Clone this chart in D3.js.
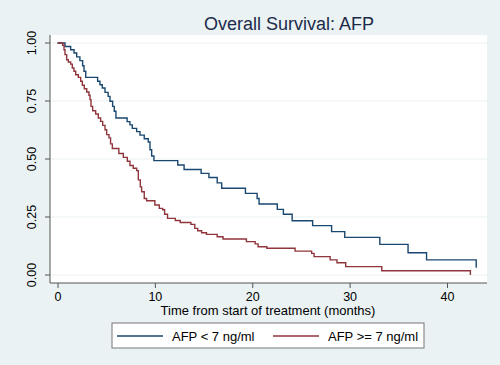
<!DOCTYPE html>
<html>
<head>
<meta charset="utf-8">
<script src="https://cdn.jsdelivr.net/npm/d3@7"></script>
<style>
  body { margin: 0; background: #eaf2f3; }
  svg { display: block; font-family: "Liberation Sans", Arial, sans-serif; }
</style>
</head>
<body>
<div id="chart"></div>
<script>
// Kaplan-Meier steps: [months, survival]
const lowAfp = [
  [0, 1], [0.77, 0.985], [1.35, 0.971], [1.7, 0.957], [1.97, 0.94], [2.3, 0.924],
  [2.58, 0.902], [2.72, 0.878], [2.9, 0.852], [4.12, 0.835], [4.36, 0.82], [4.6, 0.806],
  [4.88, 0.787], [5.2, 0.77], [5.39, 0.749], [5.66, 0.727], [5.83, 0.706], [6.0, 0.677],
  [7.15, 0.661], [7.44, 0.647], [7.68, 0.632], [8.13, 0.618], [8.47, 0.603], [8.91, 0.587],
  [9.32, 0.573], [9.5, 0.54], [9.67, 0.513], [9.9, 0.493], [12.35, 0.474], [13.0, 0.455],
  [14.75, 0.438], [15.55, 0.42], [16.4, 0.397], [16.86, 0.374], [19.3, 0.352], [20.5, 0.33],
  [20.7, 0.306], [22.57, 0.283], [23.2, 0.262], [24.1, 0.234], [26.2, 0.213], [28.15, 0.187],
  [29.5, 0.162], [33.1, 0.132], [36.0, 0.096], [37.9, 0.065], [43.0, 0.031]
];
const highAfp = [
  [0, 1], [0.53, 0.99], [0.67, 0.971], [0.77, 0.95], [0.94, 0.928], [1.11, 0.918],
  [1.35, 0.909], [1.52, 0.892], [1.69, 0.878], [1.87, 0.863], [2.14, 0.852], [2.38, 0.835],
  [2.55, 0.818], [2.75, 0.803], [3.0, 0.789], [3.23, 0.775], [3.34, 0.756], [3.44, 0.727],
  [3.61, 0.708], [3.92, 0.694], [4.19, 0.677], [4.43, 0.662], [4.64, 0.645], [4.88, 0.626],
  [5.05, 0.605], [5.29, 0.591], [5.45, 0.565], [5.63, 0.545], [6.3, 0.524], [6.76, 0.507],
  [7.17, 0.49], [7.44, 0.472], [7.78, 0.46], [8.13, 0.45], [8.3, 0.41], [8.5, 0.38],
  [8.64, 0.359], [8.91, 0.33], [9.15, 0.32], [10.0, 0.302], [10.45, 0.287], [10.8, 0.281],
  [11.0, 0.262], [11.3, 0.244], [12.1, 0.235], [12.6, 0.226], [13.7, 0.218], [14.1, 0.201],
  [14.4, 0.191], [14.8, 0.182], [15.3, 0.175], [16.4, 0.165], [17.0, 0.155], [19.4, 0.144],
  [20.3, 0.134], [20.6, 0.122], [21.5, 0.115], [24.4, 0.103], [26.1, 0.093], [26.35, 0.079],
  [28.0, 0.065], [28.7, 0.053], [29.6, 0.036], [33.3, 0.018], [42.4, 0]
];
const xTicks = [0, 10, 20, 30, 40];
const yTicks = [0, 0.25, 0.5, 0.75, 1];
const seriesNames = ["AFP < 7 ng/ml", "AFP >= 7 ng/ml"];
const seriesColors = ["#1a476f", "#90353b"];

const W = 500, H = 365;
const plot = { left: 50, top: 35, right: 487, bottom: 283 };

const svg = d3.select("#chart").append("svg")
  .attr("width", W)
  .attr("height", H);

svg.append("rect")
  .attr("width", W).attr("height", H)
  .attr("fill", "#eaf2f3");

svg.append("rect")
  .attr("x", plot.left).attr("y", plot.top)
  .attr("width", plot.right - plot.left)
  .attr("height", plot.bottom - plot.top)
  .attr("fill", "#fff");

var x = d3.scaleLinear().domain([0, 40]).range([57.5, 447]);
var y = d3.scaleLinear().domain([0, 1]).range([275, 43]);

/* gridlines at the y ticks */
svg.append("g")
  .selectAll("line")
  .data(yTicks)
  .join("line")
  .attr("x1", plot.left).attr("x2", plot.right)
  .attr("y1", d => y(d)).attr("y2", d => y(d))
  .attr("stroke", "#eaf2f3")
  .attr("stroke-width", 1.2);

/* axes */
var yAxis = svg.append("g")
  .attr("transform", `translate(${plot.left},0)`)
  .call(d3.axisLeft(y).tickValues(yTicks).tickFormat(d3.format(".2f")).tickSize(5).tickPadding(9));
yAxis.select(".domain").attr("d", `M0,${plot.top}V${plot.bottom}`);
yAxis.selectAll("text")
  .attr("transform", d => `rotate(-90, -14, ${y(d)})`)
  .attr("x", -14).attr("y", d => y(d)).attr("dy", 0)
  .attr("text-anchor", "middle");
yAxis.selectAll(".tick").attr("transform", null);
yAxis.selectAll(".tick line").attr("y1", d => y(d)).attr("y2", d => y(d));

var xAxis = svg.append("g")
  .attr("transform", `translate(0,${plot.bottom})`)
  .call(d3.axisBottom(x).tickValues(xTicks).tickSize(5).tickPadding(4));
xAxis.select(".domain").attr("d", `M${plot.left},0H${plot.right}`);

svg.selectAll(".domain, .tick line").attr("stroke", "#555").attr("stroke-width", 1);
svg.selectAll(".tick text").attr("font-size", 12.5).attr("fill", "#000")
  .attr("font-family", "Liberation Sans, Arial, sans-serif");

/* survival curves */
var line = d3.line()
  .x(d => x(d[0]))
  .y(d => y(d[1]))
  .curve(d3.curveStepAfter);

[lowAfp, highAfp].forEach((data, i) => {
  svg.append("path")
    .datum(data)
    .attr("fill", "none")
    .attr("stroke", seriesColors[i])
    .attr("stroke-width", 1.4)
    .attr("d", line);
});

/* titles */
svg.append("text")
  .attr("x", 289).attr("y", 30)
  .attr("text-anchor", "middle")
  .attr("font-size", 18)
  .attr("fill", "#1c2a4a")
  .text("Overall Survival: AFP");

svg.append("text")
  .attr("x", 268).attr("y", 315)
  .attr("text-anchor", "middle")
  .attr("font-size", 13)
  .attr("fill", "#000")
  .text("Time from start of treatment (months)");

/* legend */
var legend = svg.append("g");
legend.append("rect")
  .attr("x", 112).attr("y", 323)
  .attr("width", 312).attr("height", 25)
  .attr("fill", "#fff")
  .attr("stroke", "#777");

var legendX = d3.scalePoint().domain(seriesNames).range([117, 273]);
var item = legend.selectAll(".item")
  .data(seriesNames)
  .join("g")
  .attr("class", "item")
  .attr("transform", d => `translate(${legendX(d)},336)`);
item.append("line")
  .attr("x1", 0).attr("x2", 46)
  .attr("stroke", (d, i) => seriesColors[i])
  .attr("stroke-width", 1.4);
item.append("text")
  .attr("x", 55).attr("y", 5)
  .attr("font-size", 13)
  .attr("fill", "#000")
  .text(d => d);
</script>
</body>
</html>
